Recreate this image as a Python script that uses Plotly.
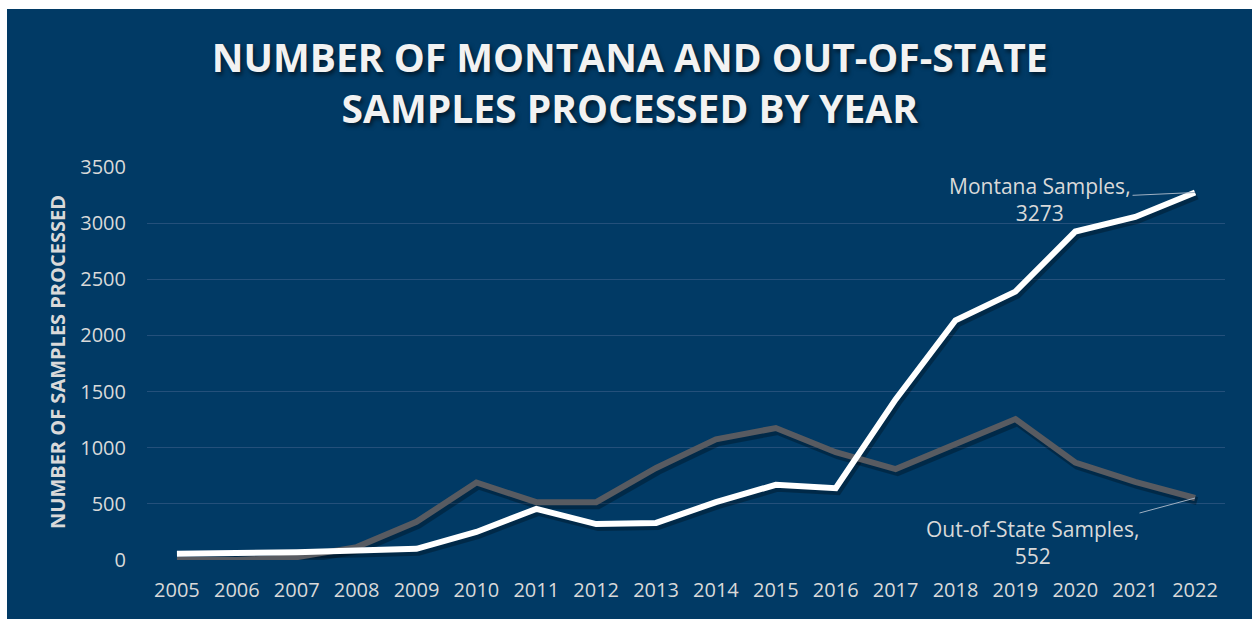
import plotly.graph_objects as go

years = [2005, 2006, 2007, 2008, 2009, 2010, 2011, 2012, 2013, 2014, 2015, 2016, 2017, 2018, 2019, 2020, 2021, 2022]
montana = [55, 60, 70, 85, 100, 250, 455, 320, 330, 515, 670, 640, 1430, 2135, 2390, 2925, 3055, 3273]
out_of_state = [0, 0, 25, 115, 340, 690, 515, 515, 820, 1075, 1175, 960, 810, 1035, 1255, 868, 695, 552]
y_ticks = [0, 500, 1000, 1500, 2000, 2500, 3000, 3500]

NAVY = "#013A65"
GRID = "#24507B"
TXT = "#D9D9D9"
GREY = "#585B61"
FONT = "Open Sans"

W, H = 1252, 619
ML, MR, MT, MB = 147, 27, 167, 59
PW = W - ML - MR
PH = H - MT - MB

fig = go.Figure()

# soft shadows derived from the series (small pixel offset)
dy = -3 * 3500 / PH
dx = 2 * 18 / PW
for ys in (out_of_state, montana):
    fig.add_trace(go.Scatter(
        x=[v + dx for v in years], y=[v + dy for v in ys], mode="lines",
        line=dict(color="rgba(0,0,0,0.28)", width=8), hoverinfo="skip", showlegend=False))

fig.add_trace(go.Scatter(x=years, y=out_of_state, mode="lines", name="Out-of-State Samples",
                         line=dict(color=GREY, width=6), showlegend=False))
fig.add_trace(go.Scatter(x=years, y=montana, mode="lines", name="Montana Samples",
                         line=dict(color="#FFFFFF", width=6), showlegend=False))

# background panel (white frame at top/left)
fig.add_shape(type="rect", xref="paper", yref="paper",
              x0=(7 - ML) / PW, x1=(W - ML + 5) / PW,
              y0=-(MB + 5) / PH, y1=(H - MB - 9) / PH,
              fillcolor=NAVY, line=dict(width=0), layer="below")

fig.update_layout(
    width=W, height=H,
    margin=dict(l=ML, r=MR, t=MT, b=MB),
    paper_bgcolor="#FFFFFF",
    plot_bgcolor=NAVY,
    title=dict(
        text="NUMBER OF MONTANA AND OUT-OF-STATE<br>SAMPLES PROCESSED BY YEAR",
        x=0.503, xref="container", xanchor="center",
        y=1 - 72 / H, yref="container", yanchor="middle",
        font=dict(family=FONT, size=39, color="#F2F2F2", weight="bold",
                  shadow="2px 3px 4px rgba(0,0,0,0.55)"),
    ),
    xaxis=dict(
        range=[2004.5, 2022.5], tickmode="array", tickvals=years,
        ticktext=[str(y) for y in years], showgrid=False, zeroline=False,
        showline=False, ticks="", tickfont=dict(family=FONT, size=20, color=TXT),
        ticklabelstandoff=16,
    ),
    yaxis=dict(
        range=[0, 3500], tickmode="array", tickvals=y_ticks,
        ticktext=[str(v) for v in y_ticks], showgrid=True, gridcolor=GRID, gridwidth=1,
        zeroline=False, showline=False, ticks="",
        tickfont=dict(family=FONT, size=20, color=TXT), ticklabelstandoff=20,
    ),
    annotations=[
        dict(text="NUMBER OF SAMPLES PROCESSED", textangle=-90,
             xref="paper", yref="paper", x=(57 - ML) / PW, y=(MT + PH - 362) / PH,
             xanchor="center", yanchor="middle", showarrow=False,
             font=dict(family=FONT, size=20, color=TXT, weight="bold")),
        dict(text=f"Montana Samples,<br>{montana[-1]}", x=years[-1], y=montana[-1],
             xref="x", yref="y", ax=-155, ay=7, showarrow=True, arrowhead=0,
             arrowwidth=1, arrowcolor="#9FB0C2", align="center",
             font=dict(family=FONT, size=21, color=TXT)),
        dict(text=f"Out-of-State Samples,<br>{out_of_state[-1]}", x=years[-1], y=out_of_state[-1],
             xref="x", yref="y", ax=-163, ay=44, showarrow=True, arrowhead=0,
             arrowwidth=1, arrowcolor="#9FB0C2", align="center",
             font=dict(family=FONT, size=21, color=TXT)),
    ],
)

fig.write_html("out.html")
